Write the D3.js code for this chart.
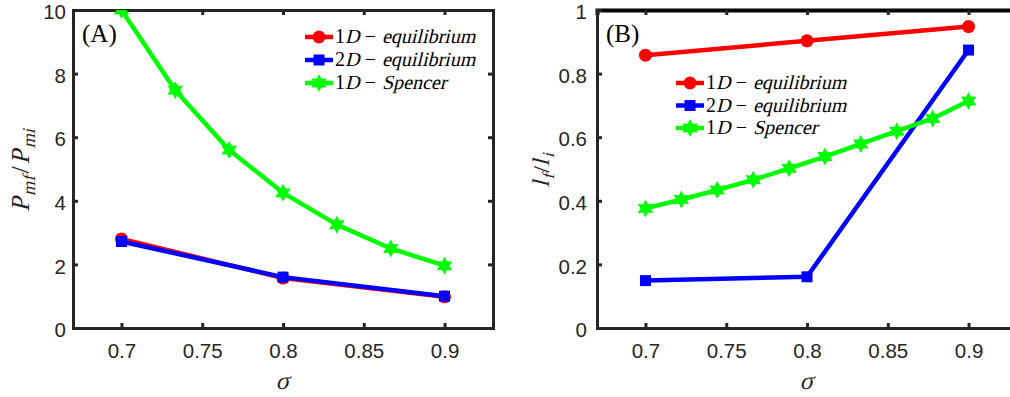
<!DOCTYPE html>
<html>
<head>
<meta charset="utf-8">
<script src="https://cdn.jsdelivr.net/npm/d3@7"></script>
<style>
  body { margin: 0; background: #fff; }
  svg { display: block; }
  .tick text { font-family: "Liberation Sans", Arial, sans-serif; font-size: 20.5px; fill: #262626; }
  .math { font-family: "Liberation Serif", "Times New Roman", serif; }
</style>
</head>
<body>
<div id="chart"></div>
<script>
// ---- data ----
const sigmaEq = [0.7, 0.8, 0.9];
const sigmaSpencerA = [0.7, 0.7333, 0.7667, 0.8, 0.8333, 0.8667, 0.9];
const sigmaSpencerB = [0.7, 0.7222, 0.7444, 0.7667, 0.7889, 0.8111, 0.8333, 0.8556, 0.8778, 0.9];

// panel A : P_mf / P_mi
const pEq1D = [2.8, 1.57, 0.98];
const pEq2D = [2.72, 1.6, 1.0];
const pSpencer = [10.0, 7.48, 5.6, 4.25, 3.25, 2.5, 1.96];

// panel B : l_f / l_i
const lEq1D = [0.858, 0.903, 0.948];
const lEq2D = [0.149, 0.161, 0.874];
const lSpencer = [0.376, 0.404, 0.434, 0.466, 0.502, 0.539, 0.579, 0.619, 0.659, 0.714];

const xTicks = [0.7, 0.75, 0.8, 0.85, 0.9];
const yTicksA = [0, 2, 4, 6, 8, 10];
const yTicksB = [0, 0.2, 0.4, 0.6, 0.8, 1];

const legendNames = [["1", "D", "equilibrium"], ["2", "D", "equilibrium"], ["1", "D", "Spencer"]];
const colors = ["#ff0000", "#0000ff", "#00ff00"];

const W = 1010, H = 397;
const svg = d3.select("#chart").append("svg").attr("width", W).attr("height", H);

// 6-pointed star marker (MATLAB 'hexagram')
function hexagram(r) {
  const pts = d3.range(12).map(i => {
    const a = -Math.PI / 2 + i * Math.PI / 6;
    const rr = i % 2 === 0 ? r : r * 0.55;
    return [rr * Math.cos(a), rr * Math.sin(a)];
  });
  return "M" + pts.map(p => p.join(",")).join("L") + "Z";
}

function marker(g, kind, color) {
  if (kind === 0) return g.append("circle").attr("r", 6.5).attr("fill", color);
  if (kind === 1) return g.append("rect").attr("x", -5.5).attr("y", -5.5).attr("width", 11).attr("height", 11).attr("fill", color);
  return g.append("path").attr("d", hexagram(9)).attr("fill", color);
}

// LaTeX-ish text: runs laid out one after another, italic runs are slanted serif
function mathText(parent, x, y, runs, size, anchor) {
  const g = parent.append("g");
  let cx = 0;
  runs.forEach(r => {
    const fs = r.sub ? size * 0.7 : size;
    const dy = r.sub ? size * 0.22 : 0;
    const t = g.append("text").attr("class", "math").attr("font-size", fs)
      .attr("fill", r.color || "#000").text(r.t)
      .attr("transform", "translate(" + cx + "," + dy + ")" + (r.it ? " skewX(-14)" : ""));
    cx += t.node().getComputedTextLength() + (r.it ? fs * 0.06 : 0) + (r.gap || 0);
  });
  const ox = anchor === "middle" ? x - cx / 2 : x;
  g.attr("transform", "translate(" + ox + "," + y + ")");
  return g;
}

function panel(opts) {
  const x = d3.scaleLinear().domain([0.67, 0.93]).range([opts.left, opts.left + 420]);
  const y = d3.scaleLinear().domain(opts.yDomain).range([328, 10]);
  const g = svg.append("g");

  const clipId = "clip" + opts.id;
  svg.append("clipPath").attr("id", clipId).append("rect")
    .attr("x", opts.left).attr("y", 10).attr("width", 420).attr("height", 318);

  // axes with inward ticks
  const xAx = g.append("g").attr("transform", "translate(0,328)")
    .call(d3.axisBottom(x).tickValues(xTicks).tickSize(-5).tickPadding(15).tickFormat(d3.format("")));
  const xTop = g.append("g").attr("transform", "translate(0,10)")
    .call(d3.axisTop(x).tickValues(xTicks).tickSize(-5).tickFormat(""));
  const yAx = g.append("g").attr("transform", "translate(" + opts.left + ",0)")
    .call(d3.axisLeft(y).tickValues(opts.yTicks).tickSize(-5).tickPadding(opts.yPad).tickFormat(d3.format("")));
  yAx.selectAll(".tick text").attr("dy", "0.42em");
  const yRight = g.append("g").attr("transform", "translate(" + (opts.left + 420) + ",0)")
    .call(d3.axisRight(y).tickValues(opts.yTicks).tickSize(-5).tickFormat(""));
  [xAx, xTop, yAx, yRight].forEach(a => {
    a.select(".domain").attr("stroke", "#262626").attr("stroke-width", 3);
    a.selectAll(".tick line").attr("stroke", "#262626").attr("stroke-width", 3);
  });
  if (opts.blackTop) {
    xTop.select(".domain").attr("stroke", "#000").attr("stroke-width", 4);
  }

  // series
  const plot = g.append("g").attr("clip-path", "url(#" + clipId + ")");
  opts.series.forEach((s, k) => {
    const pts = s.xs.map((v, i) => [v, s.ys[i]]);
    plot.append("path").datum(pts)
      .attr("fill", "none").attr("stroke", colors[k]).attr("stroke-width", 4.5)
      .attr("stroke-linejoin", "round")
      .attr("d", d3.line().x(d => x(d[0])).y(d => y(d[1])));
    plot.selectAll(".m" + k).data(pts).enter().append("g")
      .attr("transform", d => "translate(" + x(d[0]) + "," + y(d[1]) + ")")
      .each(function () { marker(d3.select(this), k, colors[k]); });
  });

  // panel letter
  g.append("text").attr("class", "math").attr("x", opts.left + 9).attr("y", 42)
    .attr("font-size", 25).attr("fill", "#000").text(opts.letter);

  // legend
  legendNames.forEach((nm, k) => {
    const ly = opts.legY + k * opts.legStep;
    const lg = g.append("g");
    lg.append("line").attr("x1", opts.legX).attr("x2", opts.legX + 28)
      .attr("y1", ly).attr("y2", ly).attr("stroke", colors[k]).attr("stroke-width", 4.5);
    const mg = lg.append("g").attr("transform", "translate(" + (opts.legX + 14) + "," + ly + ")");
    marker(mg, k, colors[k]);
    mathText(lg, opts.legX + 30, ly + 6, [
      { t: nm[0] }, { t: nm[1], it: true }, { t: "\u2009\u2212\u2009", gap: 2 }, { t: nm[2], it: true }
    ], 20, "start");
  });

  // x label
  mathText(g, x(0.8), 389, [{ t: "\u03c3", it: true, color: "#262626" }], 25, "middle");

  // y label
  const yl = g.append("g").attr("transform", "translate(" + opts.yLabX + ",170) rotate(-90)");
  mathText(yl, 0, 0, opts.yLabel.map(p => Object.assign({ color: "#262626" }, p)), opts.yLabSize, "middle");
}

panel({
  id: "A", left: 73, yDomain: [0, 10], yTicks: yTicksA, yPad: 7, letter: "(A)",
  legX: 305, legY: 37, legStep: 23, yLabX: 29, yLabSize: 26,
  yLabel: [
    { t: "P", it: true },
    { t: "mf", it: true, sub: true, gap: 1 },
    { t: "/", gap: 2 },
    { t: "P", it: true },
    { t: "mi", it: true, sub: true }
  ],
  series: [
    { xs: sigmaEq, ys: pEq1D },
    { xs: sigmaEq, ys: pEq2D },
    { xs: sigmaSpencerA, ys: pSpencer }
  ]
});

panel({
  id: "B", left: 597, yDomain: [0, 1], yTicks: yTicksB, yPad: 10, letter: "(B)", blackTop: true,
  legX: 676, legY: 83, legStep: 22.5, yLabX: 549, yLabSize: 24,
  yLabel: [
    { t: "l", it: true },
    { t: "f", it: true, sub: true },
    { t: "/" },
    { t: "l", it: true },
    { t: "i", it: true, sub: true }
  ],
  series: [
    { xs: sigmaEq, ys: lEq1D },
    { xs: sigmaEq, ys: lEq2D },
    { xs: sigmaSpencerB, ys: lSpencer }
  ]
});
</script>
</body>
</html>
